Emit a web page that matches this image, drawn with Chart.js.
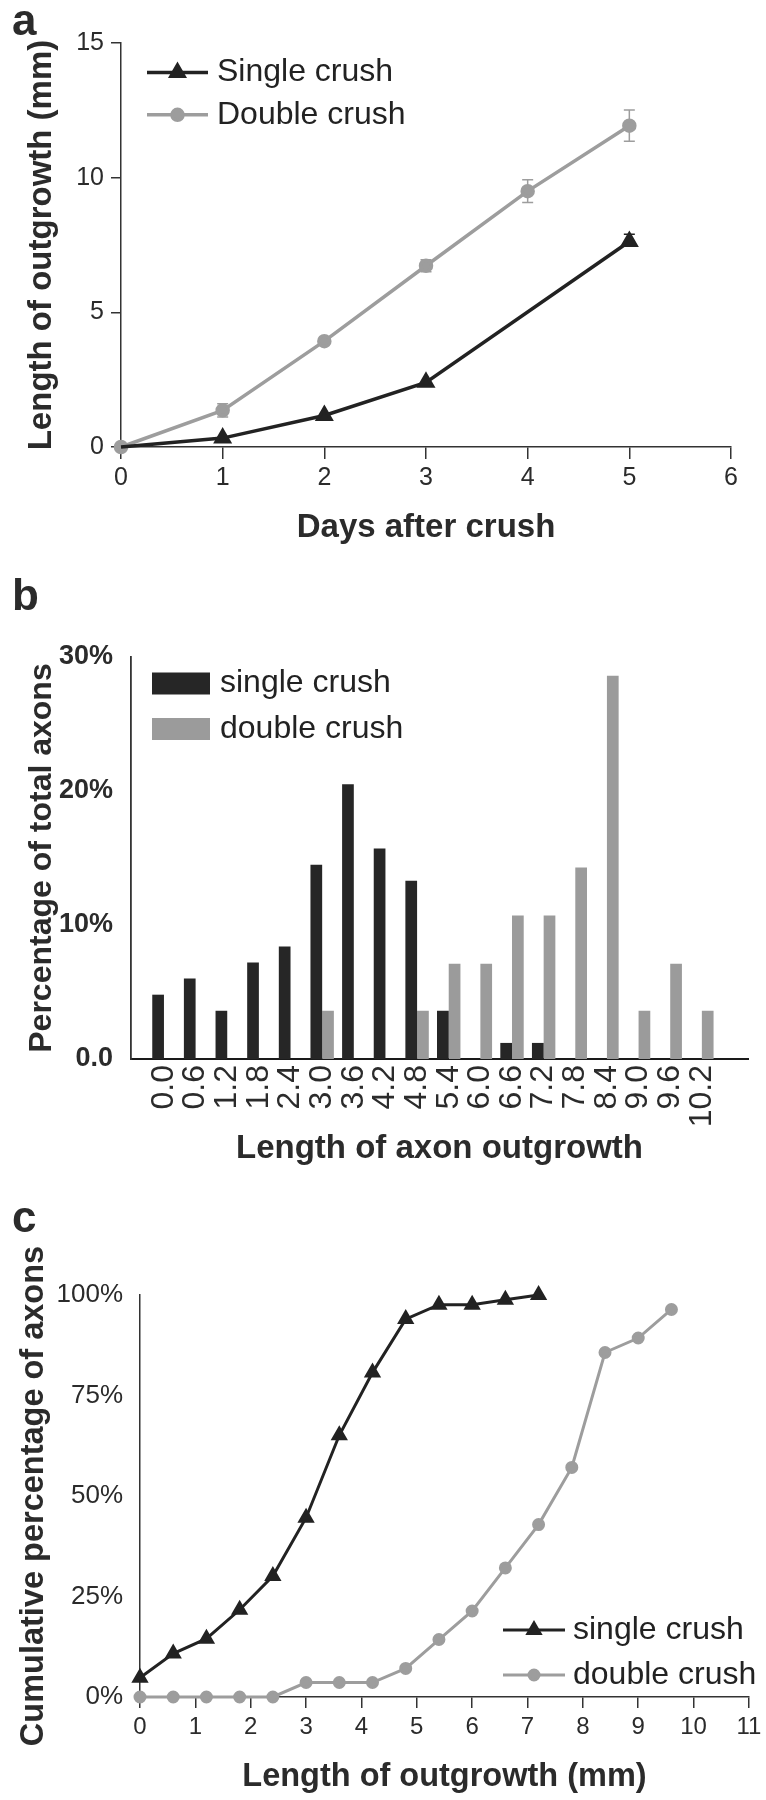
<!DOCTYPE html>
<html>
<head>
<meta charset="utf-8">
<script src="https://cdn.jsdelivr.net/npm/chart.js@4/dist/chart.umd.min.js"></script>
<style>
  body { margin: 0; background: #fff; }
  .panel { position: absolute; left: 0; }
  .tag { position: absolute; left: 12px; font: bold 44px "Liberation Sans", Arial, sans-serif; color: #2b2b2b; line-height: 1; }
</style>
</head>
<body>
<div class="panel" style="top:0"><canvas id="chart-a" width="766" height="560"></canvas></div>
<div class="panel" style="top:560px"><canvas id="chart-b" width="766" height="620"></canvas></div>
<div class="panel" style="top:1180px"><canvas id="chart-c" width="766" height="620"></canvas></div>
<div class="tag" style="top:-2px">a</div>
<div class="tag" style="top:573px">b</div>
<div class="tag" style="top:1195px">c</div>
<script>
// ── Panel a: outgrowth over time ─────────────────────────
const dayTicks = [0, 1, 2, 3, 4, 5, 6];
const outgrowthTicks = [0, 5, 10, 15];
const singleDays = [0, 1, 2, 3, 5];
const singleMean = [0, 0.33, 1.17, 2.4, 7.63];
const singleErr = [0, 0, 0, 0, 0.27];
const doubleDays = [0, 1, 2, 3, 4, 5];
const doubleMean = [0, 1.36, 3.93, 6.73, 9.5, 11.93];
const doubleErr = [0, 0.25, 0.05, 0.22, 0.42, 0.58];

// ── Panel b: histogram ────────────────────────────────────
const lengthBins = ["0.0", "0.6", "1.2", "1.8", "2.4", "3.0", "3.6", "4.2", "4.8",
                    "5.4", "6.0", "6.6", "7.2", "7.8", "8.4", "9.0", "9.6", "10.2"];
const singlePct = [4.8, 6.0, 3.6, 7.2, 8.4, 14.5, 20.5, 15.7, 13.3, 3.6, 0, 1.2, 1.2, 0, 0, 0, 0, 0];
const doublePct = [0, 0, 0, 0, 0, 3.6, 0, 0, 3.6, 7.1, 7.1, 10.7, 10.7, 14.3, 28.6, 3.6, 7.1, 3.6];
const pctTicks = [0, 10, 20, 30];
const pctTickLabels = ["0.0", "10%", "20%", "30%"];

// ── Panel c: cumulative ───────────────────────────────────
const cumSingleX = [0, 0.6, 1.2, 1.8, 2.4, 3.0, 3.6, 4.2, 4.8, 5.4, 6.0, 6.6, 7.2];
const cumSingle = [4.8, 10.8, 14.5, 21.7, 30.1, 44.6, 65.1, 80.7, 94.0, 97.6, 97.6, 98.8, 100];
const cumDoubleX = [0, 0.6, 1.2, 1.8, 2.4, 3.0, 3.6, 4.2, 4.8, 5.4, 6.0, 6.6, 7.2, 7.8, 8.4, 9.0, 9.6];
const cumDouble = [0, 0, 0, 0, 0, 3.6, 3.6, 3.6, 7.1, 14.3, 21.4, 32.1, 42.9, 57.1, 85.7, 89.3, 96.4];
const cumTicks = [0, 25, 50, 75, 100];
const mmTicks = [0, 1, 2, 3, 4, 5, 6, 7, 8, 9, 10, 11];

const FONT = '"Liberation Sans", Arial, Helvetica, sans-serif';
const INK = "#222222";
const GREY = "#9d9d9d";
const AXIS = "#333333";
const TEXT = "#2b2b2b";

Chart.defaults.font.family = FONT;
Chart.defaults.color = TEXT;

const toPoints = (xs, ys) => xs.map((x, i) => ({ x, y: ys[i] }));
const fixTicks = list => scale => { scale.ticks = list.map(v => ({ value: v })); };

// error bars drawn under the markers
const errorBars = {
  id: "errorBars",
  beforeDatasetsDraw(chart, args, opts) {
    const { ctx } = chart;
    const xs = chart.scales.x, ys = chart.scales.y;
    chart.data.datasets.forEach(ds => {
      if (!ds.errors) return;
      ctx.save();
      ctx.strokeStyle = ds.borderColor;
      ctx.lineWidth = opts.width;
      ds.data.forEach((pt, i) => {
        const e = ds.errors[i];
        if (!e) return;
        const px = xs.getPixelForValue(pt.x);
        const top = ys.getPixelForValue(pt.y + e);
        const bot = ys.getPixelForValue(ds.errorsUpOnly ? pt.y : pt.y - e);
        const half = opts.cap / 2;
        ctx.beginPath();
        ctx.moveTo(px, top); ctx.lineTo(px, bot);
        ctx.moveTo(px - half, top); ctx.lineTo(px + half, top);
        if (!ds.errorsUpOnly) {
          ctx.moveTo(px - half, bot); ctx.lineTo(px + half, bot);
        }
        ctx.stroke();
      });
      ctx.restore();
    });
  }
};

// legend placed inside the plot area
const panelLegend = {
  id: "panelLegend",
  afterDraw(chart, args, o) {
    const { ctx, chartArea } = chart;
    ctx.save();
    chart.data.datasets.forEach((ds, i) => {
      const y = chartArea.top + o.top + i * o.gap;
      const x0 = chartArea.left + o.left;
      if (o.kind === "box") {
        ctx.fillStyle = ds.backgroundColor;
        ctx.fillRect(x0, y - o.boxH / 2, o.boxW, o.boxH);
      } else {
        ctx.strokeStyle = ds.borderColor;
        ctx.lineWidth = ds.borderWidth;
        ctx.beginPath();
        ctx.moveTo(x0, y);
        ctx.lineTo(x0 + o.boxW, y);
        ctx.stroke();
        ctx.fillStyle = ds.pointBackgroundColor;
        ctx.strokeStyle = ds.pointBorderColor;
        Chart.helpers.drawPoint(ctx, { pointStyle: ds.pointStyle, radius: o.markR[i], borderWidth: 1, rotation: 0 }, x0 + o.boxW / 2, y);
      }
      ctx.fillStyle = INK;
      ctx.font = `${o.size}px ${FONT}`;
      ctx.textBaseline = "middle";
      ctx.textAlign = "left";
      ctx.fillText(ds.label, chartArea.left + o.textX, y);
    });
    ctx.restore();
  }
};

function axisLine(width) {
  return { display: true, color: AXIS, width };
}
function tickMarks(len) {
  return { display: true, drawOnChartArea: false, drawTicks: true, tickLength: len, tickColor: AXIS, tickWidth: 1.5, color: AXIS, lineWidth: 1.5 };
}
const noGrid = { display: false, drawTicks: false };
function axisTitle(text, size) {
  return { display: true, text, color: TEXT, font: { size, weight: "bold" }, padding: { top: 4, bottom: 0 } };
}

const baseOptions = {
  responsive: false,
  devicePixelRatio: 1,
  animation: false,
  events: []
};

// ── a ─────────────────────────────────────────────────────
new Chart(document.getElementById("chart-a"), {
  type: "line",
  data: {
    datasets: [
      {
        label: "Single crush",
        data: toPoints(singleDays, singleMean),
        errors: singleErr, errorsUpOnly: true,
        borderColor: INK, backgroundColor: INK,
        pointBackgroundColor: INK, pointBorderColor: INK,
        borderWidth: 3.5, pointStyle: "triangle",
        pointRadius: c => (c.dataIndex === 0 ? 0 : 7.5),
        tension: 0, clip: false
      },
      {
        label: "Double crush",
        data: toPoints(doubleDays, doubleMean),
        errors: doubleErr,
        borderColor: GREY, backgroundColor: GREY,
        pointBackgroundColor: GREY, pointBorderColor: GREY,
        borderWidth: 3.5, pointStyle: "circle", pointRadius: 5.5,
        tension: 0, clip: false
      }
    ]
  },
  options: {
    ...baseOptions,
    layout: { padding: { left: 18, top: 43, right: 35, bottom: 12 } },
    plugins: {
      legend: { display: false },
      tooltip: { enabled: false },
      errorBars: { cap: 11, width: 1.5 },
      panelLegend: { kind: "line", left: 26, top: 29.5, gap: 42.3, boxW: 61, textX: 96, size: 32, markR: [7.5, 5.5] }
    },
    scales: {
      x: {
        type: "linear", min: 0, max: 6,
        afterBuildTicks: fixTicks(dayTicks),
        afterFit: s => { s.height = 101; },
        grid: tickMarks(12), border: axisLine(1.5),
        ticks: { font: { size: 25 }, padding: 4, color: TEXT },
        title: axisTitle("Days after crush", 33)
      },
      y: {
        type: "linear", min: 0, max: 15,
        afterBuildTicks: fixTicks(outgrowthTicks),
        afterFit: s => { s.width = 103; },
        grid: tickMarks(10), border: axisLine(1.5),
        ticks: { font: { size: 25 }, padding: 7, color: TEXT },
        title: axisTitle("Length of outgrowth (mm)", 33)
      }
    }
  },
  plugins: [errorBars, panelLegend]
});

// ── b ─────────────────────────────────────────────────────
new Chart(document.getElementById("chart-b"), {
  type: "bar",
  data: {
    datasets: [
      {
        label: "single crush",
        data: lengthBins.map((b, i) => ({ x: parseFloat(b), y: singlePct[i] })),
        backgroundColor: "#262626", borderWidth: 0,
        categoryPercentage: 0.74, barPercentage: 1
      },
      {
        label: "double crush",
        data: lengthBins.map((b, i) => ({ x: parseFloat(b), y: doublePct[i] })),
        backgroundColor: "#9b9b9b", borderWidth: 0,
        categoryPercentage: 0.74, barPercentage: 1
      }
    ]
  },
  options: {
    ...baseOptions,
    layout: { padding: { left: 19, top: 97, right: 18, bottom: 11 } },
    plugins: {
      legend: { display: false },
      tooltip: { enabled: false },
      panelLegend: { kind: "box", left: 21, top: 26.5, gap: 45.5, boxW: 58, boxH: 22, textX: 89, size: 32 }
    },
    scales: {
      x: {
        type: "linear", min: -0.3, max: 10.75,
        afterBuildTicks: fixTicks(lengthBins.map(parseFloat)),
        afterFit: s => { s.height = 110; },
        grid: noGrid, border: { display: true, color: "#1a1a1a", width: 2 },
        ticks: {
          font: { size: 32 }, padding: 6, color: TEXT,
          autoSkip: false, minRotation: 90, maxRotation: 90,
          callback: (v, i) => lengthBins[i]
        },
        title: axisTitle("Length of axon outgrowth", 33)
      },
      y: {
        type: "linear", min: 0, max: 30,
        afterBuildTicks: fixTicks(pctTicks),
        afterFit: s => { s.width = 112; },
        grid: noGrid, border: axisLine(1.8),
        ticks: { font: { size: 27, weight: "bold" }, padding: 18, color: TEXT, callback: (v, i) => pctTickLabels[i] },
        title: axisTitle("Percentage of total axons", 32)
      }
    }
  },
  plugins: [panelLegend]
});

// ── c ─────────────────────────────────────────────────────
new Chart(document.getElementById("chart-c"), {
  type: "line",
  data: {
    datasets: [
      {
        label: "single crush",
        data: toPoints(cumSingleX, cumSingle),
        borderColor: INK, backgroundColor: INK,
        pointBackgroundColor: INK, pointBorderColor: INK,
        borderWidth: 3, pointStyle: "triangle", pointRadius: 7,
        tension: 0, clip: false
      },
      {
        label: "double crush",
        data: toPoints(cumDoubleX, cumDouble),
        borderColor: GREY, backgroundColor: GREY,
        pointBackgroundColor: GREY, pointBorderColor: GREY,
        borderWidth: 3, pointStyle: "circle", pointRadius: 5,
        tension: 0, clip: false
      }
    ]
  },
  options: {
    ...baseOptions,
    layout: { padding: { left: 10.2, top: 115, right: 16.7, bottom: 3.5 } },
    plugins: {
      legend: { display: false },
      tooltip: { enabled: false },
      panelLegend: { kind: "line", left: 363, top: 335, gap: 45, boxW: 62, textX: 433, size: 32, markR: [7, 5] }
    },
    scales: {
      x: {
        type: "linear", min: 0, max: 11,
        afterBuildTicks: fixTicks(mmTicks),
        afterFit: s => { s.height = 99.5; },
        grid: tickMarks(11), border: axisLine(1.5),
        ticks: { font: { size: 24 }, padding: 4.6, color: TEXT },
        title: axisTitle("Length of outgrowth (mm)", 32.5)
      },
      y: {
        type: "linear", min: 0, max: 100,
        afterBuildTicks: fixTicks(cumTicks),
        afterFit: s => { s.width = 129.8; },
        grid: noGrid, border: axisLine(1.5),
        ticks: { font: { size: 26 }, padding: 17, color: TEXT, callback: v => v + "%" },
        title: axisTitle("Cumulative percentage of axons", 32.5)
      }
    }
  },
  plugins: [panelLegend]
});
</script>
</body>
</html>
